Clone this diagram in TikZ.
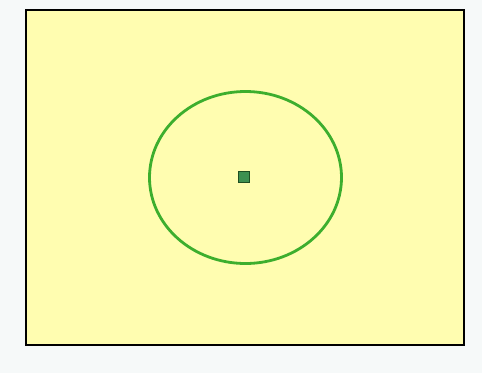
\documentclass[tikz,border=0pt]{standalone}
\definecolor{bgc}{HTML}{F6F9F9}
\definecolor{paper}{HTML}{FFFDB0}
\definecolor{ring}{HTML}{3DAE2E}
\definecolor{dotfill}{HTML}{3E9050}
\definecolor{dotline}{HTML}{1E4E22}
\tikzset{
  framebox/.style={draw=black, line width=1.2pt, fill=paper},
  ringline/.style={draw=ring, line width=2.8pt},
  centerdot/.style={draw=dotline, fill=dotfill, line width=1.1pt, minimum size=10.5pt, inner sep=0pt}
}
\begin{document}
\begin{tikzpicture}[x=1pt,y=-1pt]
\useasboundingbox[fill=bgc] (0,0) rectangle (482,373);
\path[framebox] (26,10) rectangle (464,345);
\path[ringline] (245.5,177.5) ellipse [x radius=96, y radius=86];
\node[centerdot] (c) at (244,177) {};
\end{tikzpicture}
\end{document}
